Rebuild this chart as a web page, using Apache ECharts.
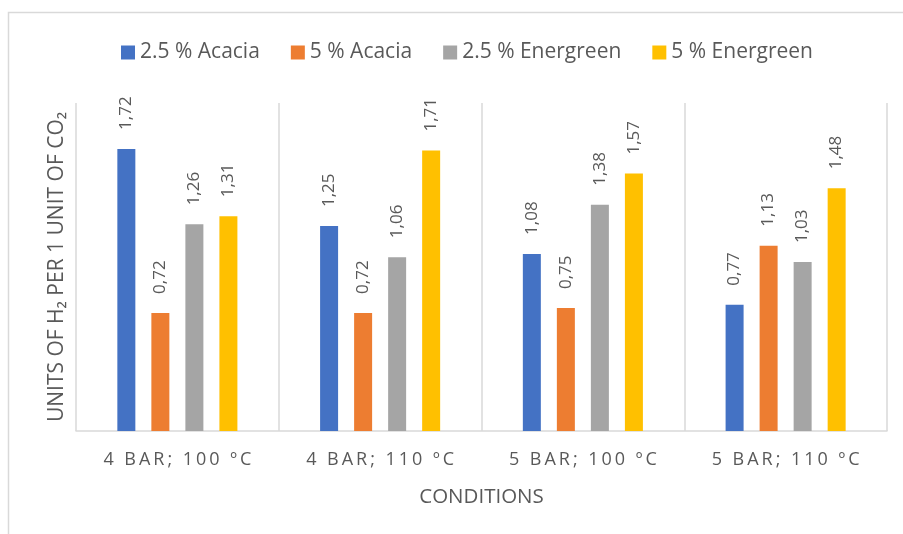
<!DOCTYPE html>
<html>
<head>
<meta charset="utf-8">
<script src="https://cdn.jsdelivr.net/npm/echarts@6/dist/echarts.min.js"></script>
<style>
  html, body { margin: 0; padding: 0; background: #fff; }
  #chart { width: 903px; height: 534px; }
</style>
</head>
<body>
<div id="chart"></div>
<script>
// Hydrogen yield per unit of CO2 under different reactor conditions
const conditions = ['4 BAR; 100 ºC', '4 BAR; 110 ºC', '5 BAR; 100 ºC', '5 BAR; 110 ºC'];
const seriesNames = ['2.5 % Acacia', '5 % Acacia', '2.5 % Energreen', '5 % Energreen'];
const acacia25 = [1.72, 1.25, 1.08, 0.77];
const acacia5 = [0.72, 0.72, 0.75, 1.13];
const energreen25 = [1.26, 1.06, 1.38, 1.03];
const energreen5 = [1.31, 1.71, 1.57, 1.48];

const seriesValues = [acacia25, acacia5, energreen25, energreen5];
const colors = ['#4472C4', '#ED7D31', '#A5A5A5', '#FFC000'];
const textColor = '#595959';
const lineColor = '#D9D9D9';
const font = '"Open Sans", "DejaVu Sans", sans-serif';

const chart = echarts.init(document.getElementById('chart'), null, { renderer: 'canvas' });

const series = seriesNames.map((name, i) => ({
  name: name,
  type: 'bar',
  data: seriesValues[i],
  barWidth: 18,
  barGap: '89%',
  itemStyle: { color: colors[i] },
  label: {
    show: true,
    position: 'top',
    rotate: 90,
    align: 'left',
    verticalAlign: 'middle',
    distance: 19,
    color: textColor,
    fontFamily: font,
    fontSize: 17,
    formatter: p => p.value.toFixed(2).replace('.', ',')
  }
}));

chart.setOption({
  backgroundColor: '#ffffff',
  animation: false,
  color: colors,
  legend: {
    data: seriesNames,
    left: 116,
    top: 37,
    itemWidth: 14,
    itemHeight: 14,
    itemGap: 31,
    icon: 'rect',
    textStyle: { color: textColor, fontFamily: font, fontSize: 21 }
  },
  grid: { left: 76, right: 16, top: 103, bottom: 103 },
  xAxis: {
    type: 'category',
    data: conditions,
    name: 'CONDITIONS',
    nameLocation: 'middle',
    nameGap: 56,
    nameTextStyle: { color: textColor, fontFamily: font, fontSize: 20.5 },
    axisLine: { show: true, lineStyle: { color: lineColor, width: 1.5 } },
    axisTick: { show: false },
    splitLine: { show: true, interval: 0, lineStyle: { color: lineColor, width: 1.5 } },
    axisLabel: {
      interval: 0,
      color: textColor,
      fontFamily: font,
      fontSize: 18,
      margin: 20,
      // spaced-out lettering for the condition labels
      formatter: v => v.split('').join('\u2009')
    }
  },
  yAxis: {
    type: 'value',
    min: 0,
    max: 2,
    interval: 0.5,
    name: 'UNITS OF H\u2082 PER 1 UNIT OF CO\u2082',
    nameLocation: 'middle',
    nameGap: 8,
    nameTextStyle: { color: textColor, fontFamily: font, fontSize: 21 },
    axisLabel: { show: false },
    axisLine: { show: false },
    axisTick: { show: false },
    splitLine: { show: false }
  },
  graphic: [
    {
      type: 'polyline',
      silent: true,
      shape: { points: [[8.5, 534], [8.5, 12.5], [903, 12.5]] },
      style: { stroke: lineColor, lineWidth: 1.5, fill: null }
    }
  ],
  series: series
});
</script>
</body>
</html>
